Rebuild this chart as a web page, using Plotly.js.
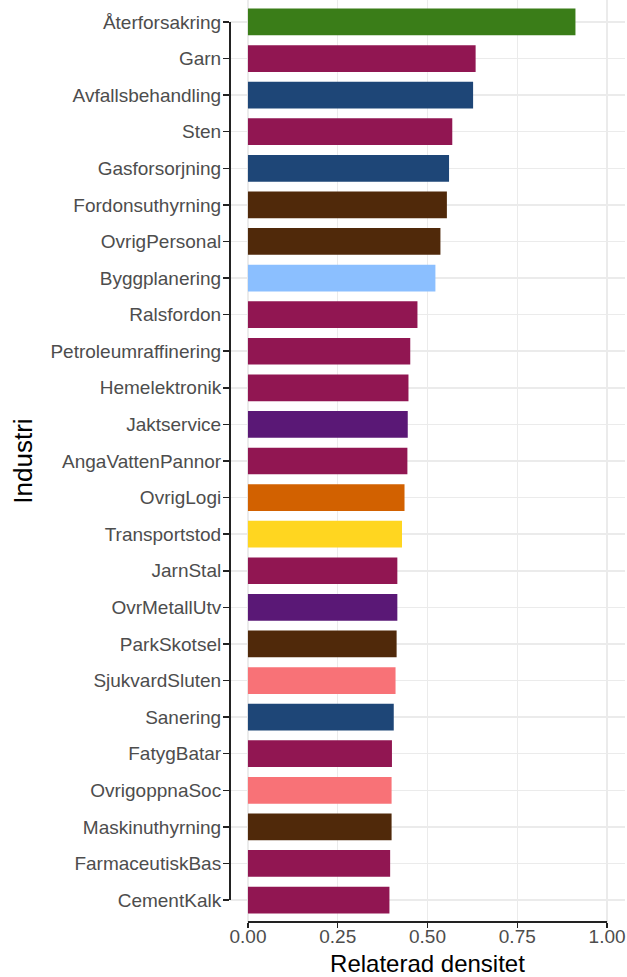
<!DOCTYPE html>
<html>
<head>
<meta charset="utf-8">
<script src="https://cdn.plot.ly/plotly-3.0.1.min.js"></script>
<style>html,body{margin:0;padding:0;background:#fff;}#chart{width:627px;height:977px;}</style>
</head>
<body>
<div id="chart"></div>
<script>
// Data (top to bottom as in the reference)
const industries = ["Återforsakring","Garn","Avfallsbehandling","Sten","Gasforsorjning","Fordonsuthyrning","OvrigPersonal","Byggplanering","Ralsfordon","Petroleumraffinering","Hemelektronik","Jaktservice","AngaVattenPannor","OvrigLogi","Transportstod","JarnStal","OvrMetallUtv","ParkSkotsel","SjukvardSluten","Sanering","FatygBatar","OvrigoppnaSoc","Maskinuthyrning","FarmaceutiskBas","CementKalk"];
const density = [0.912,0.634,0.627,0.569,0.560,0.554,0.536,0.522,0.472,0.452,0.447,0.445,0.444,0.436,0.429,0.416,0.416,0.414,0.411,0.406,0.401,0.400,0.400,0.396,0.394];
const groups = ["green","maroon","navy","maroon","navy","brown","brown","lightblue","maroon","maroon","maroon","purple","maroon","orange","yellow","maroon","purple","brown","salmon","navy","maroon","salmon","brown","maroon","maroon"];
const groupColors = {green:"#3a7d18",maroon:"#911652",navy:"#1e4677",brown:"#50290a",lightblue:"#8bbfff",purple:"#5a1876",orange:"#d26100",yellow:"#ffd620",salmon:"#f87277"};
const xTicks = [0,0.25,0.5,0.75,1];
const xTickLabels = ["0.00","0.25","0.50","0.75","1.00"];

const FONT = "Liberation Sans, Arial, Helvetica, sans-serif";
const trace = {
  type: "bar",
  orientation: "h",
  y: industries,
  x: density,
  width: 0.73,
  marker: {color: groups.map(g => groupColors[g]), line: {width: 0}},
  hoverinfo: "x+y"
};

const layout = {
  width: 627, height: 977,
  margin: {l: 230, r: 2, t: 0, b: 55},
  paper_bgcolor: "#ffffff", plot_bgcolor: "#ffffff",
  showlegend: false,
  font: {family: FONT, color: "#4d4d4d"},
  xaxis: {
    range: [-0.05, 1.05],
    tickvals: xTicks, ticktext: xTickLabels,
    showgrid: true, gridcolor: "#ebebeb", gridwidth: 1.5,
    zeroline: false, showline: false,
    ticks: "outside", ticklen: 5, tickwidth: 1.5, tickcolor: "#222",
    ticklabelstandoff: -8,
    tickfont: {size: 19, color: "#4d4d4d", family: FONT},
    title: {text: "Relaterad densitet", font: {size: 24, color: "#000", family: FONT}, standoff: 20},
    fixedrange: true
  },
  yaxis: {
    type: "category",
    categoryorder: "array",
    categoryarray: industries.slice().reverse(),
    range: [-0.6, industries.length - 0.4],
    showgrid: true, gridcolor: "#ebebeb", gridwidth: 1.5,
    zeroline: false, showline: false,
    ticks: "outside", ticklen: 6, tickwidth: 1.5, tickcolor: "#222",
    ticklabelstandoff: -2,
    tickfont: {size: 19, color: "#4d4d4d", family: FONT},
    title: {text: "Industri", font: {size: 26, color: "#000", family: FONT}, standoff: 10},
    fixedrange: true
  },
  shapes: [
    {type: "line", xref: "paper", x0: 0, x1: 0, yref: "y",
     y0: industries[industries.length - 1], y1: industries[0],
     line: {color: "#222", width: 2}},
    {type: "line", xref: "x", x0: xTicks[0], x1: xTicks[xTicks.length - 1], yref: "paper", y0: 0, y1: 0,
     line: {color: "#222", width: 2}}
  ]
};

Plotly.newPlot("chart", [trace], layout, {displayModeBar: false, staticPlot: true});
</script>
</body>
</html>
